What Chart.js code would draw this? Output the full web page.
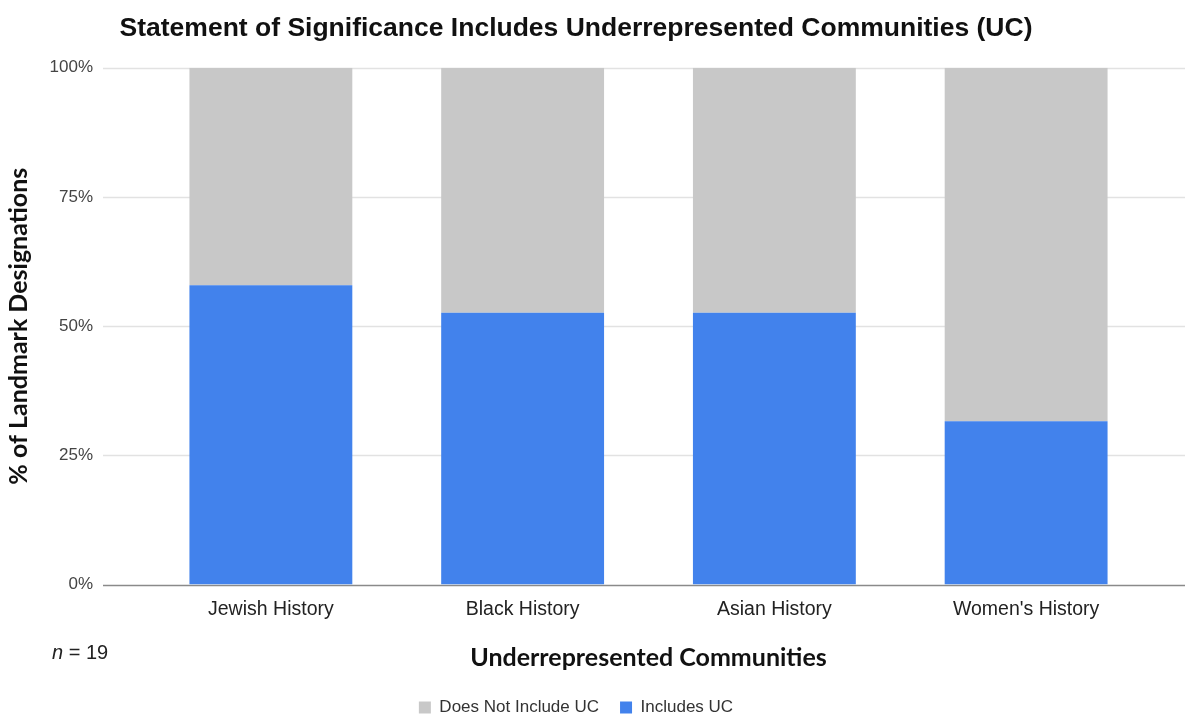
<!DOCTYPE html>
<html>
<head>
<meta charset="utf-8">
<script src="https://cdn.jsdelivr.net/npm/chart.js@4.4.0/dist/chart.umd.min.js"></script>
<style>
    html, body { margin: 0; padding: 0; background: #fff; }
    #wrap { width: 1185px; height: 721px; position: relative; }
</style>
</head>
<body>
<div id="wrap"><canvas id="uc_chart"></canvas></div>
<script>
// Datos (n = 19)
const categories = ["Jewish History", "Black History", "Asian History", "Women's History"];
const includesUC = [57.9, 52.6, 52.6, 31.6];
const notIncludesUC = [42.1, 47.4, 47.4, 68.4];
const yTicks = [0, 25, 50, 75, 100];

const sans = '"Liberation Sans", Arial, sans-serif';

// Lineas horizontales que van mas alla del area del grafico
const gridPlugin = {
    id: 'wideGrid',
    beforeDatasetsDraw(chart) {
        const ctx = chart.ctx;
        const y = chart.scales.y;
        ctx.save();
        yTicks.forEach(v => {
            const py = Math.round(y.getPixelForValue(v)) + 0.5;
            ctx.strokeStyle = v === 0 ? '#8a8a8a' : '#e2e2e2';
            ctx.lineWidth = 1.5;
            ctx.beginPath();
            ctx.moveTo(103, py);
            ctx.lineTo(chart.width, py);
            ctx.stroke();
        });
        ctx.restore();
    },
    afterDraw(chart) {
        // nota n = 19
        const ctx = chart.ctx;
        ctx.save();
        ctx.fillStyle = '#222';
        ctx.textBaseline = 'middle';
        ctx.font = 'italic 20px ' + sans;
        ctx.fillText('n', 52, 653);
        const w = ctx.measureText('n').width;
        ctx.font = '20px ' + sans;
        ctx.fillText(' = 19', 52 + w, 653);
        ctx.restore();
    }
};

let config = {
    type: 'bar',
    data: {
        labels: categories,
        datasets: [{
            label: 'Includes UC',
            data: includesUC,
            backgroundColor: '#4282ec',
            barPercentage: 0.647,
            categoryPercentage: 1.0
        }, {
            label: 'Does Not Include UC',
            data: notIncludesUC,
            backgroundColor: '#c8c8c8',
            barPercentage: 0.647,
            categoryPercentage: 1.0
        }]
    },
    options: {
        responsive: true,
        maintainAspectRatio: false,
        animation: false,
        layout: { padding: { left: 0, right: 33, top: 0, bottom: -5 } },
        plugins: {
            title: {
                display: true,
                text: 'Statement of Significance Includes Underrepresented Communities (UC)',
                color: '#111',
                font: { family: sans, size: 26.5, weight: 'bold' },
                padding: { top: 13, bottom: 23 }
            },
            legend: {
                position: 'bottom',
                reverse: true,
                labels: {
                    boxWidth: 12,
                    boxHeight: 12,
                    color: '#333',
                    font: { family: sans, size: 17 },
                    padding: 21
                }
            },
            tooltip: { enabled: false }
        },
        scales: {
            x: {
                stacked: true,
                grid: { display: false, drawTicks: false },
                border: { display: false },
                ticks: {
                    color: '#222',
                    padding: 13,
                    font: { family: sans, size: 19.5 }
                },
                title: {
                    display: true,
                    text: 'Underrepresented Communities',
                    color: '#111',
                    font: { family: 'Lato, sans-serif', size: 25, weight: 'bold' },
                    padding: { top: 9, bottom: 5 }
                }
            },
            y: {
                stacked: true,
                min: 0,
                max: 100,
                grid: { display: false, drawTicks: false },
                border: { display: false },
                afterFit(scale) { scale.width = 145; },
                ticks: {
                    stepSize: 25,
                    padding: 52,
                    color: '#444',
                    font: { family: sans, size: 17 },
                    callback: v => v + '%'
                },
                title: {
                    display: true,
                    text: '% of Landmark Designations',
                    color: '#111',
                    font: { family: 'Lato, sans-serif', size: 25, weight: 'bold' },
                    padding: { top: 4, bottom: 0 }
                }
            }
        }
    },
    plugins: [gridPlugin]
};

new Chart(document.getElementById('uc_chart').getContext('2d'), config);
</script>
</body>
</html>
